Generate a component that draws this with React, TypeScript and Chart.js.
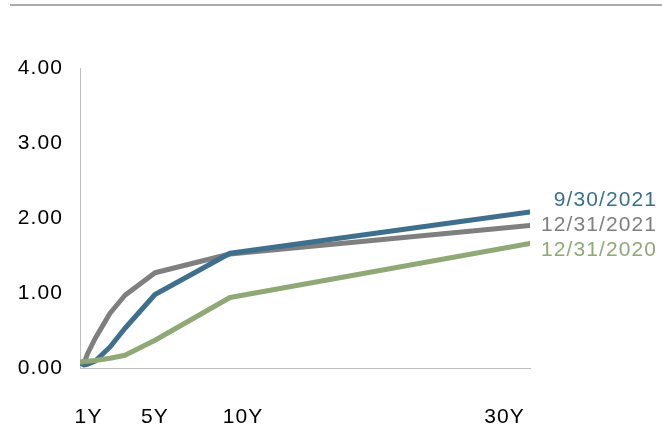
import { useEffect, useRef } from 'react';
import { Chart, registerables } from 'chart.js';

Chart.register(...registerables);

// Maturities in years: 1M, 3M, 6M, 1Y, 2Y, 3Y, 5Y, 10Y, 30Y
const maturities = [1 / 12, 0.25, 0.5, 1, 2, 3, 5, 10, 30];
const seriesNames = ['12/31/2020', '9/30/2021', '12/31/2021'];
const yieldsDec2020 = [0.08, 0.09, 0.09, 0.1, 0.13, 0.17, 0.37, 0.94, 1.66];
const yieldsSep2021 = [0.07, 0.04, 0.05, 0.09, 0.28, 0.53, 0.98, 1.53, 2.08];
const yieldsDec2021 = [0.06, 0.05, 0.19, 0.39, 0.73, 0.97, 1.27, 1.52, 1.9];
const xTickLabels = ['1Y', '5Y', '10Y', '30Y'];
const xTickYears = [0.57, 5, 10.87, 28.3];
const yTickValues = [0, 1, 2, 3, 4];

const COLORS = ['#8FA876', '#3E6F8C', '#7F7F7F'];
const FONT = "'Liberation Sans', Arial, sans-serif";
const SPACING = '1.1px';

const endLabels = {
  id: 'endLabels',
  afterDatasetsDraw(chart: any) {
    const ctx = chart.ctx;
    const items = chart.data.datasets.map((ds: any, i: number) => {
      const meta = chart.getDatasetMeta(i);
      const last = meta.data[meta.data.length - 1];
      return { text: ds.label, color: ds.borderColor, y: last.y };
    });
    const sorted = [...items].sort((a, b) => a.y - b.y);
    const m = Math.floor(sorted.length / 2);
    const gap = 25;
    const midY = sorted[m].y;
    ctx.save();
    ctx.letterSpacing = SPACING;
    ctx.font = `21px ${FONT}`;
    ctx.textAlign = 'right';
    ctx.textBaseline = 'middle';
    sorted.forEach((it, i) => {
      ctx.fillStyle = it.color;
      ctx.fillText(it.text, chart.width - 5, midY + (i - m) * gap);
    });
    ctx.restore();
  },
};

const spacingPlugin = {
  id: 'spacing',
  beforeInit(chart: any) {
    chart.ctx.letterSpacing = SPACING;
  },
  beforeUpdate(chart: any) {
    chart.ctx.letterSpacing = SPACING;
  },
  beforeDraw(chart: any) {
    chart.ctx.letterSpacing = SPACING;
  },
};

export default function App() {
  const ref = useRef<HTMLCanvasElement | null>(null);

  useEffect(() => {
    if (!ref.current) return;
    const mk = (name: string, vals: number[], color: string) => ({
      label: name,
      data: maturities.map((x, i) => ({ x, y: vals[i] })),
      borderColor: color,
      backgroundColor: color,
      borderWidth: 5,
      pointRadius: 0,
      tension: 0,
      borderCapStyle: 'round' as const,
      borderJoinStyle: 'round' as const,
    });
    const chart = new Chart(ref.current, {
      type: 'line',
      data: {
        datasets: [
          mk(seriesNames[0], yieldsDec2020, COLORS[0]),
          mk(seriesNames[1], yieldsSep2021, COLORS[1]),
          mk(seriesNames[2], yieldsDec2021, COLORS[2]),
        ],
      },
      options: {
        animation: false,
        responsive: true,
        maintainAspectRatio: false,
        layout: { padding: { top: 68, right: 132, left: 0, bottom: 0 } },
        plugins: {
          legend: { display: false },
          tooltip: { enabled: false },
        },
        scales: {
          x: {
            type: 'linear',
            min: 0,
            max: 30,
            grid: { display: false, drawTicks: false },
            border: { display: true, color: '#BFBFBF', width: 1 },
            afterBuildTicks: (scale: any) => {
              scale.ticks = xTickYears.map((v) => ({ value: v }));
            },
            afterFit: (scale: any) => {
              scale.height = 59;
            },
            ticks: {
              autoSkip: false,
              maxRotation: 0,
              padding: 37,
              color: '#000',
              font: { family: FONT, size: 21 },
              callback: (_v: any, i: number) => xTickLabels[i],
            },
          },
          y: {
            min: 0,
            max: 4,
            grid: { display: false, drawTicks: false },
            border: { display: true, color: '#BFBFBF', width: 1 },
            afterBuildTicks: (scale: any) => {
              scale.ticks = yTickValues.map((v) => ({ value: v }));
            },
            afterFit: (scale: any) => {
              scale.width = 80;
            },
            ticks: {
              padding: 17,
              color: '#000',
              font: { family: FONT, size: 21 },
              callback: (v: any) => Number(v).toFixed(2),
            },
          },
        },
      },
      plugins: [spacingPlugin, endLabels],
    });
    return () => chart.destroy();
  }, []);

  return (
    <div
      style={{
        position: 'fixed',
        left: 0,
        top: 0,
        width: 662,
        height: 427,
        background: '#fff',
      }}
    >
      <div
        style={{
          position: 'absolute',
          left: 10,
          right: 0,
          top: 4,
          height: 2,
          background: '#ABABAB',
        }}
      />
      <canvas ref={ref} />
    </div>
  );
}
